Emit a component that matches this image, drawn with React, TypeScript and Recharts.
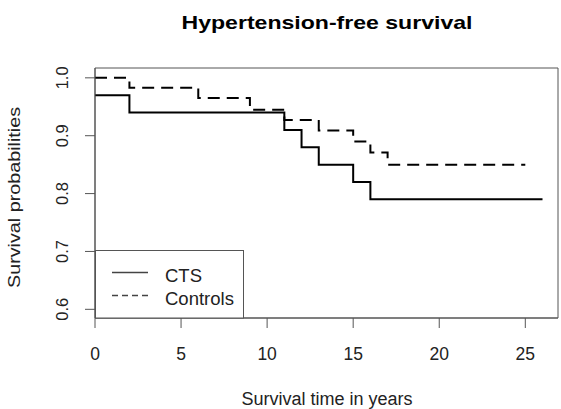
import React from 'react';
import { LineChart, Line, XAxis, YAxis, ReferenceArea } from 'recharts';

const ctsTimes = [0, 2, 11, 12, 13, 15, 16, 26];
const ctsSurv = [0.97, 0.94, 0.91, 0.88, 0.85, 0.82, 0.79, 0.79];
const ctrlTimes = [0, 2, 6, 9, 11, 13, 15, 16, 17, 25];
const ctrlSurv = [1.0, 0.983, 0.965, 0.945, 0.927, 0.909, 0.89, 0.871, 0.85, 0.85];
const xTicks = [0, 5, 10, 15, 20, 25];
const yTicks = [0.6, 0.7, 0.8, 0.9, 1.0];
const seriesNames = ['CTS', 'Controls'];
const titleText = 'Hypertension-free survival';
const xLabel = 'Survival time in years';
const yLabel = 'Survival probabilities';

const X_DOMAIN: [number, number] = [0, 26.9];
const Y_DOMAIN: [number, number] = [0.585, 1.017];

const ctsData = ctsTimes.map((t, i) => ({ t, s: ctsSurv[i] }));
const ctrlData = ctrlTimes.map((t, i) => ({ t, s: ctrlSurv[i] }));

const FONT = '"Liberation Sans", Arial, Helvetica, sans-serif';
const TEXT = '#222';
const AXIS = '#555';

const XTick = (props: any) => {
  const { x, y, payload } = props;
  return (
    <text x={x} y={y} dy={30} textAnchor="middle" fontSize={17.5} fill={TEXT} fontFamily={FONT}>
      {String(payload.value)}
    </text>
  );
};

const YTick = (props: any) => {
  const { x, y, payload } = props;
  const bx = x - 15;
  return (
    <text
      x={bx}
      y={y}
      textAnchor="middle"
      fontSize={16.5}
      fill={TEXT}
      fontFamily={FONT}
      transform={`rotate(-90 ${bx} ${y})`}
    >
      {Number(payload.value).toFixed(1)}
    </text>
  );
};

export default function App() {
  return (
    <div style={{ position: 'absolute', left: 0, top: 0, width: 561, height: 409, background: '#fff' }}>
      <LineChart width={561} height={409} margin={{ top: 68, right: 3, left: 0, bottom: 0 }}>
        <XAxis
          dataKey="t"
          type="number"
          domain={X_DOMAIN}
          ticks={xTicks}
          allowDataOverflow
          height={91}
          tickSize={10}
          tickMargin={2}
          stroke={AXIS}
          tick={<XTick />}
        />
        <YAxis
          dataKey="s"
          type="number"
          domain={Y_DOMAIN}
          ticks={yTicks}
          allowDataOverflow
          width={95}
          tickSize={10}
          tickMargin={2}
          stroke={AXIS}
          tick={<YTick />}
        />
        <ReferenceArea
          x1={X_DOMAIN[0]}
          x2={X_DOMAIN[1]}
          y1={Y_DOMAIN[0]}
          y2={Y_DOMAIN[1]}
          fill="none"
          fillOpacity={0}
          stroke={AXIS}
          strokeWidth={1}
        />
        <Line
          data={ctsData}
          dataKey="s"
          type="stepAfter"
          stroke="#000"
          strokeWidth={2}
          dot={false}
          activeDot={false}
          isAnimationActive={false}
          name={seriesNames[0]}
        />
        <Line
          data={ctrlData}
          dataKey="s"
          type="stepAfter"
          stroke="#000"
          strokeWidth={2}
          strokeDasharray="12 7"
          dot={false}
          activeDot={false}
          isAnimationActive={false}
          name={seriesNames[1]}
        />
      </LineChart>
      <svg
        width={561}
        height={409}
        style={{ position: 'absolute', left: 0, top: 0, pointerEvents: 'none' }}
      >
        <text
          x={327}
          y={28.5}
          textAnchor="middle"
          fontSize={18.5}
          fontWeight="bold"
          fill="#000"
          fontFamily={FONT}
          textLength={291}
          lengthAdjust="spacingAndGlyphs"
        >
          {titleText}
        </text>
        <text
          x={327}
          y={405}
          textAnchor="middle"
          fontSize={18}
          fill={TEXT}
          fontFamily={FONT}
          textLength={171}
          lengthAdjust="spacingAndGlyphs"
        >
          {xLabel}
        </text>
        <text
          x={20}
          y={197.5}
          textAnchor="middle"
          fontSize={17}
          fill={TEXT}
          fontFamily={FONT}
          textLength={181}
          lengthAdjust="spacingAndGlyphs"
          transform="rotate(-90 20 197.5)"
        >
          {yLabel}
        </text>
        <g>
          <rect x={95.5} y={250.5} width={148} height={67.5} fill="#fff" stroke={AXIS} strokeWidth={1} />
          <line x1={112} y1={272.5} x2={148} y2={272.5} stroke="#444" strokeWidth={1.4} />
          <line x1={112} y1={295.5} x2={148} y2={295.5} stroke="#444" strokeWidth={1.4} strokeDasharray="6 4" />
          <text x={165} y={281.5} fontSize={18.5} fill={TEXT} fontFamily={FONT}>{seriesNames[0]}</text>
          <text x={165} y={304.5} fontSize={18.5} fill={TEXT} fontFamily={FONT}>{seriesNames[1]}</text>
        </g>
      </svg>
    </div>
  );
}
